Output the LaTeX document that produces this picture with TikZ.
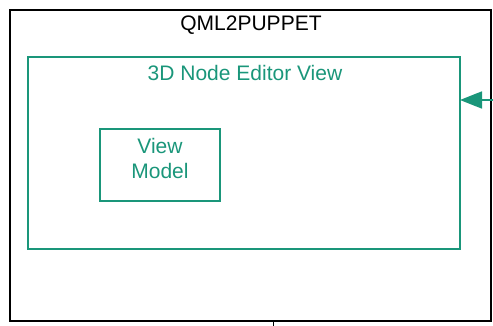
\documentclass[tikz,border=0pt]{standalone}
\usepackage{fontspec}
\setmainfont{Liberation Sans}
\usetikzlibrary{arrows.meta}
\definecolor{teal1}{RGB}{26,150,122}
\begin{document}
\begin{tikzpicture}[x=1pt,y=-1pt,
  outerbox/.style={draw=black,line width=1.8pt},
  tealbox/.style={draw=teal1,line width=1.8pt},
  lbl/.style={font=\fontsize{21}{25}\selectfont,inner sep=0pt},
  arr/.style={draw=teal1,line width=1.8pt,-{Triangle[length=22pt,width=17pt]}}]
\useasboundingbox (0,0) rectangle (493,326);
\draw[outerbox] (10,10) rectangle (491,321);
\node[lbl,anchor=center] (title) at (251,25) {QML2PUPPET};
\draw[tealbox] (28,57) rectangle (460,249);
\coordinate (ne) at (460,100);
\node[lbl,text=teal1] (nev) at (245,73) {3D Node Editor View};
\node[tealbox,minimum width=120pt,minimum height=72pt,inner sep=0pt] (vm) at (160,165) {};
\node[lbl,align=center,text=teal1] (vmt) at (160,158) {View\\Model};
\coordinate (src) at (494,100);
\draw[arr] (src) -- (ne);
\coordinate (tk1) at (273,321);
\coordinate (tk2) at (273,327);
\draw[line width=1pt] (tk1) -- (tk2);
\end{tikzpicture}
\end{document}
